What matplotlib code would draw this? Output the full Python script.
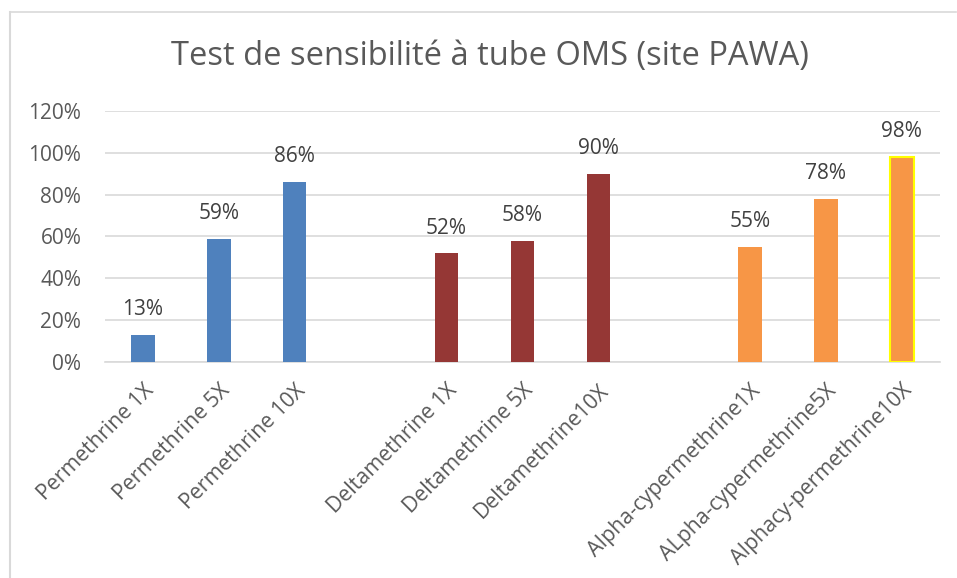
import matplotlib
matplotlib.use("Agg")
import matplotlib.pyplot as plt
from matplotlib.lines import Line2D
from matplotlib.ticker import PercentFormatter

plt.rcParams['font.family'] = ['Open Sans', 'DejaVu Sans']

# data (blank slots between the groups)
labels = ["Permethrine 1X", "Permethrine 5X", "Permethrine 10X", "",
          "Deltamethrine 1X", "Deltamethrine 5X", "Deltamethrine10X", "",
          "Alpha-cypermethrine1X", "ALpha-cypermethrine5X", "Alphacy-permethrine10X"]
mortality = [13, 59, 86, None, 52, 58, 90, None, 55, 78, 98]
group_colors = ["#4F81BD", "#4F81BD", "#4F81BD", None,
                "#953735", "#953735", "#953735", None,
                "#F79646", "#F79646", "#F79646"]
yticks = [0, 20, 40, 60, 80, 100, 120]

text_col = "#595959"
grid_col = "#D9D9D9"

fig = plt.figure(figsize=(9.57, 5.78), dpi=100)
ax = fig.add_axes([0.1097, 0.3737, 0.8723, 0.4343])

for i, (v, c) in enumerate(zip(mortality, group_colors)):
    if v is None:
        continue
    edge = "#FFFF00" if i == len(mortality) - 1 else c
    lw = 1.5 if i == len(mortality) - 1 else 0
    ax.bar(i, v, width=0.31, color=c, edgecolor=edge, linewidth=lw, zorder=3)
    ax.text(i, v + 12, f"{v}%", ha="center", va="center", fontsize=15,
            color="#404040")

ax.set_xlim(-0.5, len(labels) - 0.5)
ax.set_ylim(0, 120)
ax.set_yticks(yticks)
ax.yaxis.set_major_formatter(PercentFormatter(decimals=0))
ax.set_xticks(range(len(labels)))
ax.set_xticklabels(labels, rotation=45, ha="right", rotation_mode="anchor",
                   fontsize=15.3, color=text_col)
ax.tick_params(axis="y", length=0, labelsize=15, labelcolor=text_col, pad=17)
ax.tick_params(axis="x", length=0, pad=13)
ax.grid(axis="y", color=grid_col, linewidth=1.2, zorder=0)
for s in ["top", "right", "left"]:
    ax.spines[s].set_visible(False)
ax.spines["bottom"].set_color(grid_col)
ax.spines["bottom"].set_linewidth(1.2)

fig.text(0.512, 0.902, "Test de sensibilité à tube OMS (site PAWA)",
         ha="center", va="center", fontsize=23.5, color=text_col)

# chart frame (cropped screenshot: left and top edges only)
fig.add_artist(Line2D([0.0105, 0.0105], [0.0, 0.979], color="#D9D9D9", lw=1.5))
fig.add_artist(Line2D([0.0105, 0.999], [0.979, 0.979], color="#D9D9D9", lw=1.2))

fig.savefig("out.png", dpi=100)
